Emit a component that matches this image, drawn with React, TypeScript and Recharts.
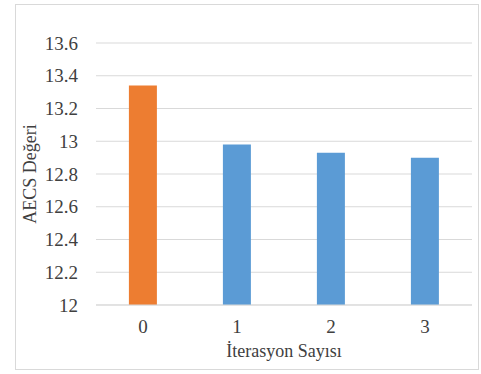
import { BarChart, Bar, XAxis, YAxis, CartesianGrid, Cell } from 'recharts'

const iterations = ['0', '1', '2', '3']
const aecsValues = [13.34, 12.98, 12.93, 12.9]
const barColors = ['#ed7d31', '#5b9bd5', '#5b9bd5', '#5b9bd5']
const yTicks = [12, 12.2, 12.4, 12.6, 12.8, 13, 13.2, 13.4, 13.6]

const data = iterations.map((name, i) => ({ name, value: aecsValues[i] }))

const FONT = "'Liberation Serif', 'Times New Roman', serif"
const TEXT = '#404040'

const XTick = (props: any) => (
  <text
    x={props.x}
    y={props.y}
    dy="0.71em"
    textAnchor="middle"
    style={{ fontSize: 19, fontFamily: FONT, fill: TEXT }}
  >
    {props.payload.value}
  </text>
)

const YTick = (props: any) => (
  <text
    x={props.x}
    y={props.y}
    dy="0.355em"
    textAnchor="end"
    style={{ fontSize: 19, fontFamily: FONT, fill: TEXT }}
  >
    {String(Number(Number(props.payload.value).toFixed(1)))}
  </text>
)

export default function App() {
  return (
    <div
      style={{
        position: 'absolute',
        left: 15,
        top: 4,
        width: 462,
        height: 364,
        border: '1px solid #d9d9d9',
        background: '#fff',
        fontFamily: FONT,
      }}
    >
      <BarChart
        width={462}
        height={364}
        data={data}
        margin={{ top: 38, right: 6, left: 0, bottom: 0 }}
        barCategoryGap="35%"
      >
        <CartesianGrid vertical={false} stroke="#d9d9d9" />
        <XAxis
          dataKey="name"
          axisLine={{ stroke: '#d9d9d9' }}
          tickLine={false}
          tickSize={0}
          tickMargin={15}
          height={64}
          tick={<XTick />}
          label={{
            value: 'İterasyon Sayısı',
            position: 'insideBottom',
            offset: 12,
            style: { fontSize: 18, fill: TEXT, fontFamily: FONT },
          }}
        />
        <YAxis
          width={80}
          domain={[12, 13.6]}
          ticks={yTicks}
          interval={0}
          axisLine={false}
          tickLine={false}
          tickSize={0}
          tickMargin={18}
          tick={<YTick />}
          label={{
            value: 'AECS Değeri',
            angle: -90,
            position: 'insideLeft',
            offset: 14,
            style: { fontSize: 18, fill: TEXT, fontFamily: FONT, textAnchor: 'middle' },
          }}
        />
        <Bar dataKey="value" isAnimationActive={false}>
          {data.map((d, i) => (
            <Cell key={d.name} fill={barColors[i]} />
          ))}
        </Bar>
      </BarChart>
    </div>
  )
}
